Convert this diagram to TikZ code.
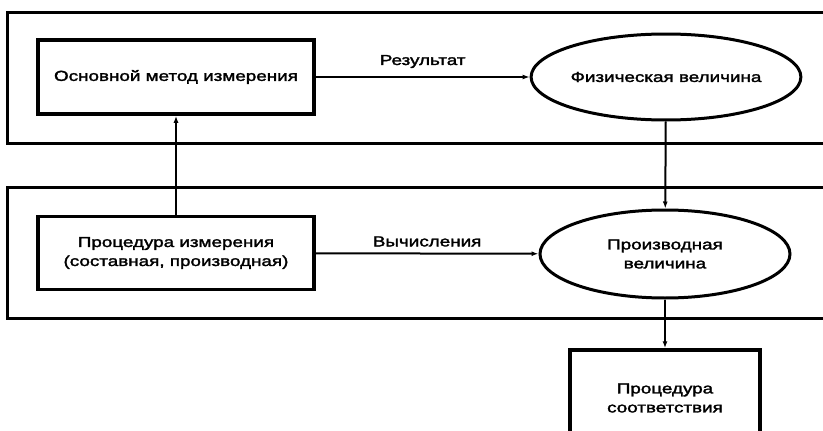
\documentclass[tikz,border=0pt]{standalone}
\usepackage{fontspec}
\setmainfont{Liberation Sans}[FakeStretch=1.3,FakeBold=2]
\usetikzlibrary{shapes.geometric,arrows.meta}
\begin{document}
\begin{tikzpicture}[x=1pt,y=-1pt,
  band/.style={draw,line width=3pt},
  procbox/.style={draw,line width=3.5pt,inner sep=0pt,align=center,font=\fontsize{14.5}{19}\selectfont},
  quantity/.style={draw,ellipse,line width=3pt,inner sep=0pt,align=center,font=\fontsize{14.5}{19}\selectfont},
  link/.style={line width=2pt,-{Latex[length=7pt,width=5pt]}},
  lbl/.style={font=\fontsize{14.5}{17}\selectfont,inner sep=0pt}]
\useasboundingbox (0,0) rectangle (823,431);
\clip (0,0) rectangle (823,431);
\fill[white] (0,0) rectangle (823,431);
\draw[band] (7,12) rectangle (840,143);
\draw[band] (7,187) rectangle (840,318);
\node[procbox,minimum width=276pt,minimum height=74pt] (b1) at (176,77) {Основной метод измерения};
\node[quantity,minimum width=252pt,minimum height=86pt] (e1) at (666,77) {Физическая величина};
\node[procbox,minimum width=276pt,minimum height=73pt] (b2) at (176,253) {Процедура измерения\\(составная, производная)};
\node[quantity,minimum width=250pt,minimum height=88pt] (e2) at (665,254) {Производная\\величина};
\node[procbox,minimum width=190pt,minimum height=96pt] (b3) at (665,398) {Процедура\\соответствия};
\draw[link] (b1) -- node[lbl,above=8pt] {Результат} (e1);
\draw[link] (b2) -- node[lbl,above=6pt] {Вычисления} (e2);
\draw[link] (b2) -- (b1);
\draw[link] (e1) -- (e2);
\draw[link] (e2) -- (b3);
\end{tikzpicture}
\end{document}
